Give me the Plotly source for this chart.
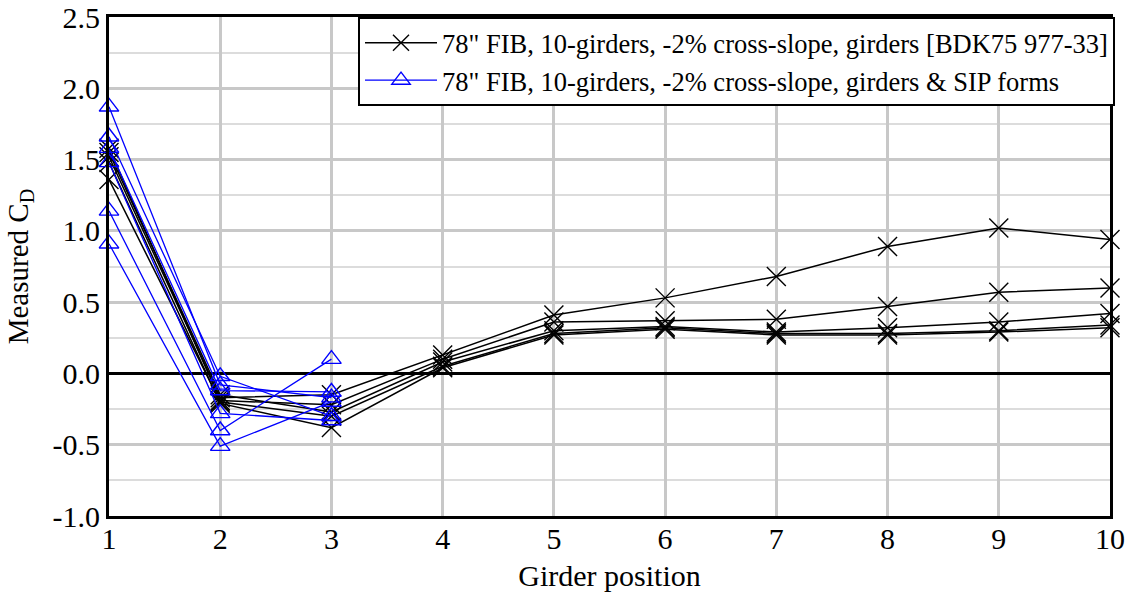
import plotly.graph_objects as go

positions = [1, 2, 3, 4, 5, 6, 7, 8, 9, 10]
sip_positions = [1, 2, 3]

# girders only [BDK75 977-33], one list per test
girders_runs = [
    [1.52, -0.17, -0.15, 0.13, 0.41, 0.53, 0.68, 0.89, 1.02, 0.94],
    [1.58, -0.19, -0.22, 0.10, 0.36, 0.37, 0.38, 0.47, 0.57, 0.60],
    [1.55, -0.15, -0.27, 0.08, 0.30, 0.33, 0.29, 0.32, 0.36, 0.42],
    [1.36, -0.20, -0.30, 0.05, 0.28, 0.32, 0.28, 0.28, 0.30, 0.34],
    [1.48, -0.21, -0.38, 0.04, 0.27, 0.31, 0.27, 0.27, 0.29, 0.32],
]

# girders & SIP forms, only the first three girders were measured
sip_runs = [
    [1.87, -0.08, -0.17],
    [1.66, -0.02, -0.30],
    [1.58, -0.12, -0.13],
    [1.48, -0.28, -0.33],
    [1.14, -0.40, 0.10],
    [0.91, -0.51, -0.20],
]

y_ticks = [-1.0, -0.5, 0.0, 0.5, 1.0, 1.5, 2.0, 2.5]
y_labels = ["-1.0", "-0.5", "0.0", "0.5", "1.0", "1.5", "2.0", "2.5"]

name_girders = '78" FIB, 10-girders, -2% cross-slope, girders [BDK75 977-33]'
name_sip = '78" FIB, 10-girders, -2% cross-slope, girders & SIP forms'

FONT = "Liberation Serif, Times New Roman, serif"

fig = go.Figure()

for i, run in enumerate(girders_runs):
    fig.add_trace(go.Scatter(
        x=positions, y=run, mode="lines+markers",
        name=name_girders, legendgroup="girders", showlegend=(i == 0),
        line=dict(color="black", width=1.5),
        marker=dict(symbol="x-thin-open", size=19,
                    line=dict(color="black", width=1.4)),
        cliponaxis=False, legendrank=1,
    ))

for i, run in enumerate(sip_runs):
    fig.add_trace(go.Scatter(
        x=sip_positions, y=run, mode="lines+markers",
        name=name_sip, legendgroup="sip", showlegend=(i == 0),
        line=dict(color="#0000ff", width=1.3),
        marker=dict(symbol="triangle-up-open", size=17,
                    line=dict(color="#0000ff", width=1.4)),
        cliponaxis=False, legendrank=2,
    ))

fig.update_layout(
    width=1130, height=597,
    margin=dict(l=109, r=20, t=17, b=81),
    paper_bgcolor="white", plot_bgcolor="white",
    font=dict(family=FONT, size=30, color="black"),
    legend=dict(
        x=1.005, y=1, xanchor="right", yanchor="top",
        bgcolor="white", bordercolor="black", borderwidth=2,
        font=dict(size=26.5), tracegroupgap=0,
        itemwidth=72,
    ),
    xaxis=dict(
        range=[1, 10], dtick=1, tick0=1,
        showgrid=True, gridcolor="#c8c8c8", gridwidth=2.5,
        showline=True, mirror=True, linecolor="black", linewidth=3,
        zeroline=False, ticks="", automargin=False,
        tickfont=dict(size=30), ticklabelstandoff=-6,
        title=dict(text="Girder position", standoff=11, font=dict(size=30)),
    ),
    yaxis=dict(
        range=[-1, 2.5], tickvals=y_ticks, ticktext=y_labels,
        showgrid=True, gridcolor="#c8c8c8", gridwidth=2.5,
        minor=dict(dtick=0.25, showgrid=True, gridcolor="#dcdcdc", gridwidth=1.5),
        showline=True, mirror=True, linecolor="black", linewidth=3,
        zeroline=True, zerolinecolor="black", zerolinewidth=2.5,
        ticks="", automargin=False, ticklabeloverflow="allow",
        tickfont=dict(size=30),
        title=dict(text="Measured C<sub>D</sub>", standoff=16, font=dict(size=29)),
    ),
)

# drop the page's default 8px body margin so the figure fills the window
fig.write_html("out.html", config={"displayModeBar": False},
               post_script="document.body.style.margin = '0';")
